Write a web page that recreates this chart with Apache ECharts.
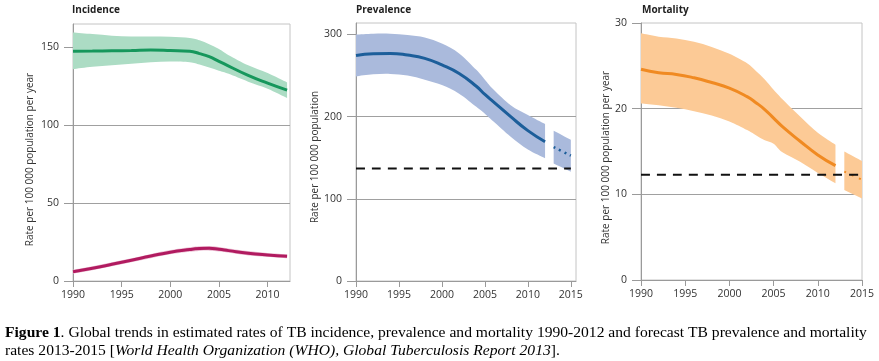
<!DOCTYPE html>
<html>
<head>
<meta charset="utf-8">
<script src="https://cdn.jsdelivr.net/npm/echarts@6/dist/echarts.min.js"></script>
<style>
html,body{margin:0;padding:0;background:#fff;}
#c{width:879px;height:361px;}
</style>
</head>
<body>
<div id="c"></div>
<script>
// ---------------- DATA ----------------
var panelTitles = ['Incidence', 'Prevalence', 'Mortality'];
var yNames = ['Rate per 100 000 population per year', 'Rate per 100 000 population', 'Rate per 100 000 population per year'];

// Incidence
var incYears = [1990, 1992, 1994, 1996, 1998, 2000, 2002, 2003, 2004, 2005, 2006, 2008, 2010, 2012];
var incAll   = [147.5, 147.6, 147.8, 148, 148.3, 148, 147.5, 146, 144, 141, 138, 132, 127, 122.5];
var incAllHi = [159.5, 158.5, 157.5, 157, 157, 156.8, 156, 154.5, 152, 149, 145, 138.5, 133.5, 127.5];
var incAllLo = [136, 137.5, 138.5, 139.5, 140.5, 141, 140.5, 139, 137, 135, 133, 128, 123.5, 117.5];
var incHiv   = [6, 8.2, 10.7, 13.3, 16, 18.5, 20.2, 20.8, 21, 20.4, 19.5, 17.8, 16.7, 15.9];
var incHivHi = [7.3, 9.5, 12.0, 14.6, 17.4, 19.9, 21.7, 22.3, 22.5, 21.9, 20.9, 19.2, 18.0, 17.2];
var incHivLo = [4.7, 6.9, 9.4, 12.0, 14.6, 17.1, 18.7, 19.3, 19.5, 18.9, 18.1, 16.4, 15.4, 14.6];
var incYTicks = [0, 50, 100, 150];
var incXTicks = [1990, 1995, 2000, 2005, 2010];

// Prevalence
var prvYears = [1990, 1992, 1994, 1996, 1998, 2000, 2002, 2004, 2005, 2006, 2008, 2010, 2012];
var prv      = [274.5, 276.5, 277, 275, 271, 263, 252.5, 237, 227, 218, 200, 183, 169.5];
var prvHi    = [300, 301, 301, 299.5, 296.5, 289, 277, 257, 245, 233, 214, 202, 191];
var prvLo    = [249, 251.5, 252, 250, 245, 238.5, 228, 212, 203.5, 194, 175.5, 160, 149.5];
var prvFcYears = [2013, 2015];
var prvFc    = [163, 152.5];
var prvFcHi  = [183, 172];
var prvFcLo  = [143, 133];
var prvTarget = 137;
var prvYTicks = [0, 100, 200, 300];
var prvXTicks = [1990, 1995, 2000, 2005, 2010, 2015];

// Mortality
var morYears = [1990, 1992, 1994, 1996, 1998, 2000, 2002, 2003, 2004, 2005, 2006, 2008, 2010, 2012];
var mor      = [24.6, 24.2, 24.0, 23.6, 23.05, 22.4, 21.4, 20.7, 19.9, 18.9, 17.9, 16.2, 14.6, 13.35];
var morHi    = [28.8, 28.4, 28.2, 27.8, 27.2, 26.4, 25.3, 24.4, 23.4, 22.2, 21.1, 19.1, 17.2, 15.8];
var morLo    = [20.6, 20.4, 20.1, 19.7, 19.2, 18.5, 17.5, 16.9, 16.3, 15.9, 14.9, 13.8, 12.5, 11.3];
var morFcYears = [2013, 2015];
var morFc    = [12.65, 11.7];
var morFcHi  = [15.0, 13.9];
var morFcLo  = [10.5, 9.5];
var morTarget = 12.3;
var morYTicks = [0, 10, 20, 30];
var morXTicks = [1990, 1995, 2000, 2005, 2010, 2015];

// ---------------- HELPERS ----------------
var FONT = '"Open Sans", "DejaVu Sans", sans-serif';
var SERIF = '"Liberation Serif", "Times New Roman", serif';
function pairs(xs, ys) { return xs.map(function (x, i) { return [x, ys[i]]; }); }

// Catmull-Rom -> cubic bezier path segments through pixel points
function curveSegs(p) {
  var s = '';
  for (var i = 0; i < p.length - 1; i++) {
    var p0 = p[i - 1] || p[i], p1 = p[i], p2 = p[i + 1], p3 = p[i + 2] || p[i + 1];
    var c1x = p1[0] + (p2[0] - p0[0]) / 6, c1y = p1[1] + (p2[1] - p0[1]) / 6;
    var c2x = p2[0] - (p3[0] - p1[0]) / 6, c2y = p2[1] - (p3[1] - p1[1]) / 6;
    s += ' C' + c1x + ' ' + c1y + ' ' + c2x + ' ' + c2y + ' ' + p2[0] + ' ' + p2[1];
  }
  return s;
}

function band(idx, xs, hi, lo, color) {
  return {
    type: 'custom', xAxisIndex: idx, yAxisIndex: idx, silent: true, z: 1, clip: true,
    data: xs.map(function (x, i) { return [x, lo[i], hi[i]]; }),
    encode: { x: 0, y: [1, 2] },
    renderItem: function (params, api) {
      if (params.dataIndex !== 0) return null;
      var up = xs.map(function (x, i) { return api.coord([x, hi[i]]); });
      var dn = xs.map(function (x, i) { return api.coord([x, lo[i]]); }).reverse();
      var d = 'M' + up[0][0] + ' ' + up[0][1] + curveSegs(up) +
              ' L' + dn[0][0] + ' ' + dn[0][1] + curveSegs(dn) + ' Z';
      return { type: 'path', shape: { pathData: d }, style: { fill: color, stroke: null } };
    }
  };
}
function line(idx, xs, ys, color, width, type, z) {
  return { type: 'line', xAxisIndex: idx, yAxisIndex: idx, smooth: true, symbol: 'none', silent: true,
    lineStyle: { color: color, width: width, type: type || 'solid' }, data: pairs(xs, ys), z: z || 3 };
}

var grids = [
  { left: 73, right: 589, top: 24, bottom: 80 },
  { left: 356, right: 303, top: 23, bottom: 80 },
  { left: 641, right: 17, top: 23, bottom: 81 }
];
var xMax = [2012.3, 2015.6, 2015];
var yMax = [165, 314, 30];
var yInt = [50, 100, 10];
var xTickSets = [incXTicks, prvXTicks, morXTicks];
var yTickSets = [incYTicks, prvYTicks, morYTicks];
var nameGaps = [38, 36, 30];
var namePads = [[0, 14, 0, 0], [0, 10, 0, 0], [0, 12, 0, 0]];
var titleLefts = [72, 356, 642];

var option = {
  animation: false,
  backgroundColor: '#fff',
  title: panelTitles.map(function (t, i) {
    return { text: t, left: titleLefts[i], top: 5, padding: 0,
      textStyle: { fontFamily: FONT, fontSize: 10, fontWeight: 'bold', color: '#222' } };
  }).concat([{
    left: 5, top: 324, padding: 0,
    text: '{b|Figure 1}. Global trends in estimated rates of TB incidence, prevalence and mortality 1990-2012 and forecast TB prevalence and mortality\nrates 2013-2015 [{i|World Health Organization (WHO), Global Tuberculosis Report 2013}].',
    textStyle: {
      fontFamily: SERIF, fontSize: 15.6, fontWeight: 'normal', color: '#000', lineHeight: 18,
      rich: {
        b: { fontFamily: SERIF, fontSize: 15.6, fontWeight: 'bold', color: '#000', lineHeight: 18 },
        i: { fontFamily: SERIF, fontSize: 15.6, fontStyle: 'italic', color: '#000', lineHeight: 18 }
      }
    }
  }]),
  grid: grids.map(function (g) {
    return { left: g.left, right: g.right, top: g.top, bottom: g.bottom, show: true,
      borderColor: '#c4c4c4', borderWidth: 1, backgroundColor: 'transparent' };
  }),
  xAxis: [0, 1, 2].map(function (i) {
    return {
      type: 'value', gridIndex: i, min: 1990, max: xMax[i], interval: 5,
      axisLine: { show: true, lineStyle: { color: '#9a9a9a', width: 1 } },
      axisTick: { show: true, length: 6, inside: false, lineStyle: { color: '#9a9a9a' }, customValues: xTickSets[i] },
      axisLabel: { color: '#333', fontFamily: FONT, fontSize: 10.5, margin: 9, customValues: xTickSets[i],
        formatter: function (v) { return String(v); } },
      splitLine: { show: false }
    };
  }),
  yAxis: [0, 1, 2].map(function (i) {
    return {
      type: 'value', gridIndex: i, min: 0, max: yMax[i], interval: yInt[i],
      name: yNames[i], nameLocation: 'middle', nameGap: nameGaps[i],
      nameTextStyle: { fontFamily: FONT, fontSize: 10, color: '#333', padding: namePads[i] },
      axisLine: { show: true, lineStyle: { color: '#9a9a9a', width: 1 } },
      axisTick: { show: true, length: 9, inside: false, lineStyle: { color: '#9a9a9a' }, customValues: yTickSets[i] },
      axisLabel: { color: '#333', fontFamily: FONT, fontSize: 10.5, margin: 14, customValues: yTickSets[i] },
      splitLine: { show: true, showMinLine: false, showMaxLine: false, lineStyle: { color: '#a0a0a0', width: 1 } }
    };
  }),
  series: [
    band(0, incYears, incAllHi, incAllLo, '#acdcc4'),
    band(0, incYears, incHivHi, incHivLo, '#ecc0d4'),
    line(0, incYears, incAll, '#16975c', 3),
    line(0, incYears, incHiv, '#b11b60', 3),
    band(1, prvYears, prvHi, prvLo, '#aabadc'),
    band(1, prvFcYears, prvFcHi, prvFcLo, '#aabadc'),
    line(1, prvYears, prv, '#1c5e9a', 3),
    line(1, prvFcYears, prvFc, '#1c5e9a', 2.5, [2, 4]),
    line(1, [1990, 2015], [prvTarget, prvTarget], '#111', 2, [9, 7], 4),
    band(2, morYears, morHi, morLo, '#fcca96'),
    band(2, morFcYears, morFcHi, morFcLo, '#fcca96'),
    line(2, morYears, mor, '#f08a22', 3),
    line(2, morFcYears, morFc, '#f08a22', 2, [2, 6]),
    line(2, [1990, 2015], [morTarget, morTarget], '#111', 2, [9, 7], 4)
  ]
};

var chart = echarts.init(document.getElementById('c'), null, { renderer: 'canvas' });
chart.setOption(option);
</script>
</body>
</html>
